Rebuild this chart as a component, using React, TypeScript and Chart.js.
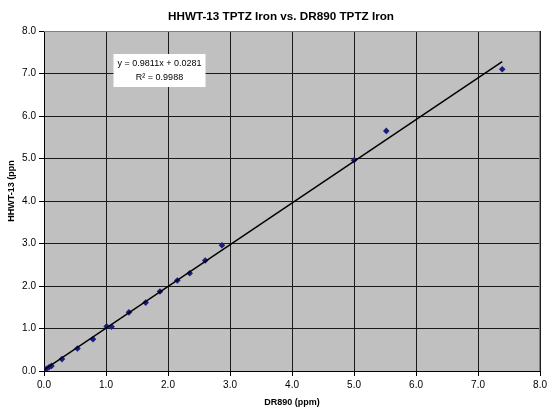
import React, { useEffect, useRef } from "react";
import { Chart, registerables } from "chart.js";

Chart.register(...registerables);

const titleText = "HHWT-13 TPTZ Iron vs. DR890 TPTZ Iron";
const xTitle = "DR890 (ppm)";
const yTitle = "HHWT-13 (ppn";
const eqLine1 = "y = 0.9811x + 0.0281";
const eqLine2 = "R² = 0.9988";

const drX = [0, 0.04, 0.08, 0.12, 0.29, 0.54, 0.79, 1.01, 1.09, 1.37, 1.64, 1.87, 2.15, 2.35, 2.6, 2.87, 5.0, 5.52, 7.39];
const hhY = [0.02, 0.05, 0.09, 0.12, 0.28, 0.53, 0.75, 1.05, 1.04, 1.38, 1.61, 1.87, 2.13, 2.3, 2.6, 2.96, 4.96, 5.65, 7.1];

const slope = 0.9811;
const intercept = 0.0281;
const trendX = [0, 7.39];

const FONT = "'Liberation Sans', Arial, sans-serif";

export default function App() {
  const ref = useRef<HTMLCanvasElement | null>(null);

  useEffect(() => {
    const canvas = ref.current;
    if (!canvas) return;

    const decor = {
      id: "decor",
      beforeDraw(chart: any) {
        const { ctx, chartArea: a } = chart;
        ctx.save();
        ctx.fillStyle = "#ffffff";
        ctx.fillRect(0, 0, chart.width, chart.height);
        ctx.fillStyle = "#C0C0C0";
        ctx.fillRect(a.left, a.top, a.right - a.left, a.bottom - a.top);
        ctx.restore();
      },
      beforeDatasetsDraw(chart: any) {
        const { ctx, chartArea: a } = chart;
        ctx.save();
        ctx.strokeStyle = "#808080";
        ctx.lineWidth = 1;
        ctx.beginPath();
        ctx.moveTo(a.left, a.top + 0.5);
        ctx.lineTo(a.right - 0.5, a.top + 0.5);
        ctx.lineTo(a.right - 0.5, a.bottom);
        ctx.stroke();
        ctx.restore();
      },
      afterDraw(chart: any) {
        const { ctx, chartArea: a } = chart;
        ctx.save();
        ctx.fillStyle = "#000";
        ctx.textAlign = "center";
        ctx.textBaseline = "middle";
        ctx.font = `bold 11.7px ${FONT}`;
        ctx.fillText(titleText, 281, 16.5);
        ctx.font = `bold 9px ${FONT}`;
        ctx.fillText(xTitle, (a.left + a.right) / 2, 403);
        ctx.save();
        ctx.translate(12, 191);
        ctx.rotate(-Math.PI / 2);
        ctx.fillText(yTitle, 0, 0);
        ctx.restore();
        // equation box
        const bx = a.left + 69.5;
        const by = a.top + 23;
        ctx.fillStyle = "#ffffff";
        ctx.fillRect(bx, by, 92, 33);
        ctx.fillStyle = "#000";
        ctx.font = `9px ${FONT}`;
        ctx.fillText(eqLine1, bx + 46, by + 10);
        ctx.fillText(eqLine2, bx + 46, by + 24);
        ctx.restore();
      },
    };

    const chart = new Chart(canvas, {
      type: "scatter",
      data: {
        datasets: [
          {
            type: "line",
            label: "Linear",
            data: trendX.map((x) => ({ x, y: slope * x + intercept })),
            borderColor: "#000000",
            borderWidth: 1.5,
            pointRadius: 0,
            fill: false,
          } as any,
          {
            label: "HHWT-13",
            data: drX.map((x, i) => ({ x, y: hhY[i] })),
            pointStyle: "rectRot",
            pointRadius: 3.3,
            backgroundColor: "#1C1C80",
            borderColor: "#1C1C80",
            borderWidth: 0,
          },
        ],
      },
      options: {
        responsive: false,
        animation: false,
        devicePixelRatio: 1,
        layout: { padding: { top: 31, right: 8, left: 0, bottom: 0 } },
        plugins: {
          legend: { display: false },
          tooltip: { enabled: false },
          title: { display: false },
        },
        scales: {
          x: {
            type: "linear",
            min: 0,
            max: 8,
            afterFit(scale: any) {
              scale.height = 38;
            },
            ticks: {
              stepSize: 1,
              color: "#000",
              font: { family: FONT, size: 10 },
              padding: 3,
              maxRotation: 0,
              callback: (v: any) => Number(v).toFixed(1),
            },
            grid: { color: "#1a1a1a", lineWidth: 1, tickLength: 5, tickColor: "#000" },
            border: { color: "#000", width: 1 },
          },
          y: {
            type: "linear",
            min: 0,
            max: 8,
            afterFit(scale: any) {
              scale.width = 44;
            },
            ticks: {
              stepSize: 1,
              color: "#000",
              font: { family: FONT, size: 10 },
              padding: 3,
              callback: (v: any) => Number(v).toFixed(1),
            },
            grid: { color: "#1a1a1a", lineWidth: 1, tickLength: 5, tickColor: "#000" },
            border: { color: "#000", width: 1 },
          },
        },
      },
      plugins: [decor],
    });

    return () => chart.destroy();
  }, []);

  return (
    <div style={{ position: "absolute", left: 0, top: 0, width: 550, height: 409, background: "#fff" }}>
      <canvas ref={ref} width={550} height={409} style={{ width: 550, height: 409, display: "block" }} />
    </div>
  );
}
